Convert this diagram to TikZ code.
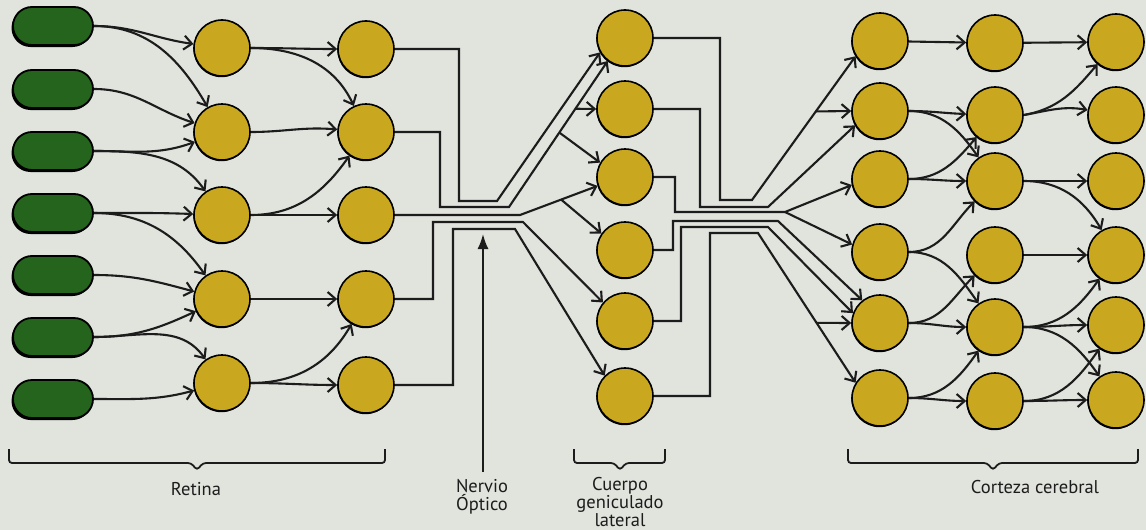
\documentclass[tikz,border=0pt]{standalone}
\usepackage{fontspec}
\setmainfont{PT Sans}
\usetikzlibrary{arrows.meta,shadows,calc}
\definecolor{bgpaper}{RGB}{224,228,221}
\definecolor{rodgreen}{RGB}{36,100,28}
\definecolor{cellgold}{RGB}{201,168,32}
\definecolor{ink}{RGB}{28,28,28}
\newcommand{\legendfont}{\fontsize{18.5}{18}\selectfont}
\tikzset{
  rod/.style={rectangle, rounded corners=19pt, minimum width=80pt, minimum height=38pt,
    fill=rodgreen, draw=black, line width=1.8pt,
    general shadow={shadow xshift=-1.5pt, shadow yshift=-2pt, fill=black}},
  cell/.style={circle, minimum size=56pt, inner sep=0pt, fill=cellgold, draw=black,
    line width=1.6pt, general shadow={shadow xshift=-0.6pt, shadow yshift=-1.2pt, fill=black}},
  fiber/.style={line width=2.1pt, draw=ink},
  syn/.style={fiber, -{Straight Barb[length=8pt,width=14pt]}},
  legendtext/.style={font=\legendfont, align=center, text=ink, inner sep=0pt},
  bracket/.style={line width=1.8pt, draw=ink, rounded corners=3pt},
}
\begin{document}
\begin{tikzpicture}[x=1pt,y=1pt]
\fill[bgpaper] (0,0) rectangle (1146,-530);
\useasboundingbox (0,0) rectangle (1146,-530);

% photoreceptors
\foreach \i/\y in {1/26,2/89,3/151,4/213,5/275,6/337,7/399}
  \node[rod] (p\i) at (53,-\y) {};
% retinal cell layers
\foreach \i/\y in {1/48,2/132,3/215,4/299,5/383}
  \node[cell] (a\i) at (222,-\y) {};
\foreach \i/\y in {1/49,2/132,3/215,4/299,5/385}
  \node[cell] (b\i) at (366,-\y) {};
% lateral geniculate body
\foreach \i/\y in {1/38,2/109,3/177,4/250,5/321,6/396}
  \node[cell] (g\i) at (625,-\y) {};
% cortex columns
\foreach \i/\y in {1/41,2/111,3/179,4/252,5/323,6/398}
  \node[cell] (c\i) at (880,-\y) {};
\foreach \i/\y in {1/43,2/115,3/181,4/255,5/327,6/401}
  \node[cell] (d\i) at (995,-\y) {};
\foreach \i/\y in {1/42,2/115,3/181,4/255,5/325,6/400}
  \node[cell] (e\i) at (1116,-\y) {};

% receptors -> first layer
\draw[syn] (p1.east) to[out=0,in=172] (a1);
\draw[syn] (p1.east) to[out=0,in=120] (a2);
\draw[syn] (p2.east) to[out=0,in=162] (a2);
\draw[syn] (p3.east) to[out=0,in=200] (a2);
\draw[syn] (p3.east) to[out=0,in=125] (a3);
\draw[syn] (p4.east) to[out=0,in=178] (a3);
\draw[syn] (p4.east) to[out=0,in=125] (a4);
\draw[syn] (p5.east) to[out=0,in=165] (a4);
\draw[syn] (p6.east) to[out=0,in=205] (a4);
\draw[syn] (p6.east) to[out=0,in=125] (a5);
\draw[syn] (p7.east) to[out=0,in=195] (a5);

% first layer -> second layer
\draw[syn] (a1.east) to[out=0,in=180] (b1);
\draw[syn] (a1.east) to[out=0,in=115] (b2);
\draw[syn] (a2.east) to[out=0,in=175] (b2);
\draw[syn] (a3.east) to[out=0,in=235] (b2);
\draw[syn] (a3.east) to[out=0,in=180] (b3);
\draw[syn] (a4.east) to[out=0,in=180] (b4);
\draw[syn] (a5.east) to[out=0,in=240] (b4);
\draw[syn] (a5.east) to[out=0,in=180] (b5);

% optic nerve bundle
\coordinate (x1) at (497,-201);
\coordinate (x2) at (509,-207);
\coordinate (x3) at (520,-215);
\coordinate (x4) at (523,-222);
\coordinate (x5) at (515,-229);
\draw[syn] (b1.east) -| (459,-201) -- (x1) -- (g1.210);
\draw[syn] (b2.east) -| (440,-207) -- (x2) -- (g1.233);
\draw[syn] ($(x2)!0.673!(g1.233)$) -- (g2.west);
\draw[syn] ($(x2)!0.51!(g1.233)$) -- (g3.150);
\draw[syn] (b3.east) -- (x3) -- (g3.198);
\draw[syn] ($(x3)!0.53!(g3.198)$) -- (g4.145);
\draw[syn] (b4.east) -| (433,-222) -- (x4) -- (g5.140);
\draw[syn] (b5.east) -| (453,-229) -- (x5) -- (g6.135);

% geniculocortical bundle
\coordinate (y1) at (752,-200);
\coordinate (y2) at (768,-207);
\coordinate (y3) at (785,-212);
\coordinate (y4) at (778,-221);
\coordinate (y5) at (768,-227);
\coordinate (y6) at (758,-233);
\draw[syn] (g1.east) -| (720,-200) -- (y1) -- (c1.212);
\draw[syn] ($(y1)!0.616!(c1.212)$) -- (c2.west);
\draw[syn] (g2.east) -| (700,-207) -- (y2) -- (c2.210);
\draw[syn] (g3.east) -| (675,-212) -- (y3) -- (c3.192);
\draw[syn] (y3) -- (c4.165);
\draw[syn] (g4.east) -| (673,-221) -- (y4) -- (c5.128);
\draw[syn] (g5.east) -| (681,-227) -- (y5) -- (c5.160);
\draw[syn] (g6.east) -| (710,-233) -- (y6) -- (c6.148);
\draw[syn] ($(y6)!0.6!(c6.148)$) -- (c5.west);

% cortex, first -> second column
\draw[syn] (c1) -- (d1);
\draw[syn] (c2.east) to[out=0,in=178] (d2);
\draw[syn] (c2.east) to[out=0,in=125] (d3);
\draw[syn] (c3.east) to[out=0,in=180] (d3);
\draw[syn] (c3.east) to[out=0,in=230] (d2);
\draw[syn] (c4.east) to[out=0,in=225] (d3);
\draw[syn] (c4.east) to[out=0,in=125] (d5);
\draw[syn] (c5.east) to[out=0,in=180] (d5);
\draw[syn] (c5.east) to[out=0,in=225] (d4);
\draw[syn] (c6.east) to[out=0,in=180] (d6);
\draw[syn] (c6.east) to[out=0,in=235] (d5);
% cortex, second -> third column
\draw[syn] (d1) -- (e1);
\draw[syn] (d2.east) to[out=10,in=230] (e1);
\draw[syn] (d2.east) to[out=10,in=170] (e2);
\draw[syn] (d3.east) to[out=0,in=180] (e3);
\draw[syn] (d3.east) to[out=0,in=120] (e4);
\draw[syn] (d4.east) to[out=0,in=180] (e4);
\draw[syn] (d5.east) to[out=0,in=235] (e4);
\draw[syn] (d5.east) to[out=0,in=180] (e5);
\draw[syn] (d5.east) to[out=0,in=125] (e6);
\draw[syn] (d6.east) to[out=0,in=180] (e6);
\draw[syn] (d6.east) to[out=0,in=235] (e5);

% brackets
\draw[bracket] (9,-449) |- (191,-463) -- (197,-470) -- (203,-463) -| (385,-449);
\draw[bracket] (574,-449) |- (614,-463) -- (620,-470) -- (626,-463) -| (665,-449);
\draw[bracket] (848,-449) |- (987,-463) -- (993,-470) -- (999,-463) -| (1138,-449);

% labels
\node[legendtext, anchor=base] (ret) at (196,-495) {Retina};
\node[legendtext, anchor=north] (nv) at (482,-479) {Nervio\\Óptico};
\node[legendtext, anchor=north] (lgn) at (620,-477) {Cuerpo\\geniculado\\lateral};
\node[legendtext, anchor=base] (ctx) at (1035,-493) {Corteza cerebral};

% pointer to the optic nerve
\coordinate (nvtip) at (483,-234);
\draw[line width=1.8pt, draw=ink, -{Latex[length=15pt,width=11pt]}]
  ([xshift=1pt,yshift=7pt]nv.north) -- (nvtip);
\end{tikzpicture}
\end{document}
